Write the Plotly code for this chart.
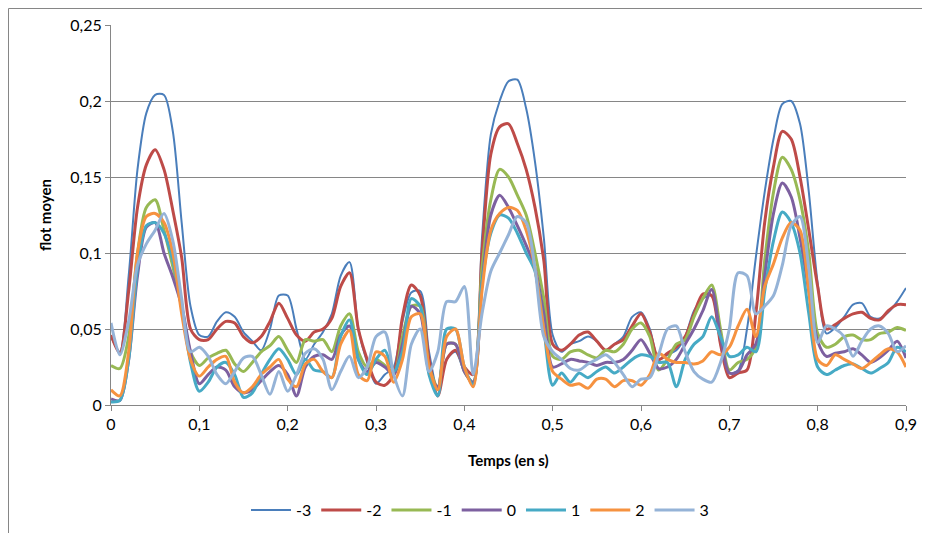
import plotly.graph_objects as go

time_s = [round(i * 0.01, 2) for i in range(91)]

s_m3 = [0.045, 0.035, 0.085, 0.155, 0.192, 0.204, 0.204, 0.18, 0.12, 0.065,
        0.046, 0.045, 0.055, 0.061, 0.058, 0.048, 0.042, 0.036, 0.05, 0.072,
        0.072, 0.05, 0.03, 0.04, 0.048, 0.06, 0.085, 0.094, 0.05, 0.028,
        0.014, 0.02, 0.025, 0.055, 0.074, 0.075, 0.035, 0.01, 0.03, 0.035,
        0.022, 0.015, 0.11, 0.178, 0.2, 0.213, 0.214, 0.195, 0.16, 0.11,
        0.046, 0.035, 0.04, 0.042, 0.045, 0.042, 0.036, 0.04, 0.045, 0.058,
        0.061, 0.05, 0.03, 0.033, 0.036, 0.045, 0.062, 0.07, 0.072, 0.04,
        0.021, 0.023, 0.05, 0.097, 0.14, 0.175, 0.198, 0.2, 0.185, 0.14,
        0.08, 0.047, 0.051, 0.058, 0.066, 0.067, 0.058, 0.057, 0.061, 0.068,
        0.077]

s_m2 = [0.046, 0.034, 0.075, 0.13, 0.158, 0.168, 0.155, 0.128, 0.097, 0.05,
        0.043, 0.043, 0.05, 0.055, 0.054, 0.045, 0.041, 0.045, 0.055, 0.067,
        0.057, 0.046, 0.042, 0.048, 0.05, 0.057, 0.078, 0.087, 0.05, 0.03,
        0.015, 0.013, 0.02, 0.058, 0.079, 0.072, 0.03, 0.006, 0.03, 0.036,
        0.025, 0.02, 0.1, 0.165, 0.183, 0.185, 0.172, 0.155, 0.13, 0.095,
        0.04, 0.036, 0.04, 0.046, 0.048, 0.042, 0.036, 0.04, 0.043, 0.052,
        0.06, 0.048, 0.03, 0.034, 0.038, 0.045, 0.06, 0.073, 0.072, 0.04,
        0.018, 0.021, 0.023, 0.06, 0.12, 0.157, 0.18, 0.175, 0.15, 0.115,
        0.078, 0.05, 0.053, 0.057, 0.06, 0.061, 0.057, 0.056, 0.062, 0.066,
        0.066]

s_m1 = [0.026, 0.024, 0.045, 0.1, 0.13, 0.135, 0.115, 0.091, 0.065, 0.035,
        0.026, 0.031, 0.034, 0.036, 0.027, 0.022, 0.028, 0.035, 0.039, 0.045,
        0.036, 0.028, 0.043, 0.042, 0.043, 0.035, 0.052, 0.06, 0.035, 0.025,
        0.03, 0.026, 0.02, 0.045, 0.065, 0.065, 0.025, 0.012, 0.04, 0.04,
        0.022, 0.015, 0.09, 0.135, 0.155, 0.15, 0.138, 0.125, 0.1, 0.07,
        0.032, 0.03, 0.035, 0.036, 0.033, 0.031, 0.036, 0.035, 0.04, 0.05,
        0.054, 0.045, 0.023, 0.03, 0.04, 0.043, 0.058, 0.07, 0.079, 0.05,
        0.023, 0.028, 0.03, 0.038, 0.095, 0.14, 0.163, 0.155, 0.135, 0.1,
        0.047, 0.038, 0.04, 0.045, 0.046, 0.043, 0.043, 0.047, 0.048, 0.051,
        0.049]

s_0 = [0.004, 0.003, 0.03, 0.085, 0.117, 0.12, 0.1, 0.084, 0.065, 0.035,
       0.014, 0.02, 0.025, 0.023, 0.012, 0.008, 0.01, 0.016, 0.022, 0.026,
       0.02, 0.006, 0.025, 0.032, 0.033, 0.03, 0.046, 0.052, 0.03, 0.022,
       0.028, 0.025, 0.02, 0.04, 0.065, 0.06, 0.022, 0.012, 0.04, 0.04,
       0.022, 0.015, 0.08, 0.125, 0.138, 0.13, 0.118, 0.105, 0.09, 0.06,
       0.025, 0.027, 0.03, 0.029, 0.028, 0.026, 0.028, 0.028, 0.03, 0.036,
       0.043, 0.034, 0.024, 0.025, 0.03, 0.04, 0.05, 0.062, 0.076, 0.045,
       0.021, 0.022, 0.033, 0.04, 0.085, 0.126, 0.146, 0.137, 0.11, 0.075,
       0.042, 0.032, 0.034, 0.035, 0.037, 0.033, 0.028, 0.031, 0.036, 0.042,
       0.031]

s_p1 = [0.002, 0.003, 0.03, 0.09, 0.118, 0.12, 0.113, 0.095, 0.065, 0.028,
        0.009, 0.015, 0.025, 0.028, 0.02, 0.005, 0.008, 0.02, 0.03, 0.037,
        0.03, 0.02, 0.03, 0.023, 0.022, 0.018, 0.045, 0.056, 0.03, 0.02,
        0.03, 0.036, 0.022, 0.035, 0.07, 0.065, 0.02, 0.006, 0.05, 0.05,
        0.025, 0.013, 0.08, 0.113, 0.125, 0.123, 0.113, 0.1, 0.088, 0.05,
        0.013, 0.021, 0.015, 0.021, 0.018, 0.022, 0.025, 0.021, 0.025, 0.03,
        0.033, 0.032, 0.028, 0.028, 0.012, 0.03, 0.04, 0.045, 0.058, 0.045,
        0.032, 0.033, 0.038, 0.035, 0.075, 0.108, 0.127, 0.12, 0.1, 0.06,
        0.025, 0.02, 0.023, 0.026, 0.027, 0.024, 0.021, 0.024, 0.028, 0.038,
        0.035]

s_p2 = [0.01, 0.006, 0.035, 0.1, 0.124, 0.126, 0.12, 0.1, 0.06, 0.03,
        0.019, 0.025, 0.03, 0.032, 0.015, 0.008, 0.012, 0.02, 0.025, 0.03,
        0.017, 0.012, 0.027, 0.03, 0.022, 0.018, 0.04, 0.049, 0.02, 0.016,
        0.035, 0.032, 0.015, 0.03, 0.058, 0.06, 0.025, 0.01, 0.045, 0.05,
        0.025, 0.012, 0.075, 0.115, 0.126, 0.13, 0.128, 0.115, 0.09, 0.05,
        0.022, 0.017, 0.013, 0.014, 0.011, 0.017, 0.017, 0.012, 0.016, 0.016,
        0.013, 0.02, 0.034, 0.03, 0.028, 0.028, 0.027, 0.029, 0.035, 0.033,
        0.038, 0.052, 0.063, 0.045, 0.078, 0.093, 0.11, 0.12, 0.115, 0.075,
        0.03, 0.026, 0.033, 0.03, 0.027, 0.024, 0.028, 0.033, 0.037, 0.035,
        0.025]

s_p3 = [0.054, 0.033, 0.055, 0.092, 0.106, 0.115, 0.126, 0.108, 0.07, 0.035,
        0.038, 0.032, 0.02, 0.014, 0.022, 0.031, 0.032, 0.02, 0.007, 0.022,
        0.009, 0.02, 0.034, 0.037, 0.03, 0.01, 0.022, 0.032, 0.018, 0.025,
        0.045, 0.048, 0.02, 0.006, 0.04, 0.05, 0.022, 0.035, 0.068, 0.068,
        0.078, 0.02, 0.06, 0.088, 0.1, 0.112, 0.124, 0.12, 0.09, 0.045,
        0.035, 0.03, 0.024, 0.023, 0.027, 0.03, 0.033, 0.028, 0.02, 0.012,
        0.017, 0.018, 0.033, 0.05, 0.052, 0.035, 0.022, 0.017, 0.015, 0.028,
        0.05, 0.087, 0.085, 0.06, 0.065, 0.072, 0.092, 0.118, 0.124, 0.09,
        0.041, 0.052, 0.05, 0.045, 0.032, 0.042, 0.05, 0.052, 0.047, 0.035,
        0.039]

series_names = ["-3", "-2", "-1", "0", "1", "2", "3"]
series_values = [s_m3, s_m2, s_m1, s_0, s_p1, s_p2, s_p3]
colors = ["#4A7EBB", "#BE4B48", "#98B954", "#7D60A0", "#46AAC5", "#F69240", "#95B3D7"]
widths = [2, 3, 3, 3, 3, 3, 3]

x_tick_vals = [0, 0.1, 0.2, 0.3, 0.4, 0.5, 0.6, 0.7, 0.8, 0.9]
x_tick_text = ["0", "0,1", "0,2", "0,3", "0,4", "0,5", "0,6", "0,7", "0,8", "0,9"]
y_tick_vals = [0, 0.05, 0.1, 0.15, 0.2, 0.25]
y_tick_text = ["0", "0,05", "0,1", "0,15", "0,2", "0,25"]

FONT = "Lato"
OFF = 8                      # page body margin
FW, FH = 930 - OFF, 533 - OFF
# plot area in screen pixels: x 111..906, y 25..405
L, R, T, B = 111 - OFF, 930 - 906, 25 - OFF, 533 - 405
PW, PH = FW - L - R, FH - T - B

def px_x(p):
    return (p - OFF - L) / PW

def px_y(p):
    return (FH - B - (p - OFF)) / PH

fig = go.Figure()
for name, vals, col, w in zip(series_names, series_values, colors, widths):
    fig.add_trace(go.Scatter(
        x=time_s, y=vals, name=name, mode="lines",
        line=dict(color=col, width=w, shape="spline", smoothing=0.8),
    ))

fig.update_layout(
    width=FW, height=FH,
    margin=dict(l=L, r=R, t=T, b=B, autoexpand=False),
    paper_bgcolor="white", plot_bgcolor="white",
    font=dict(family=FONT, size=16, color="#000000"),
    showlegend=True,
    legend=dict(orientation="h", x=px_x(480), xanchor="center", y=px_y(510), yanchor="middle",
                font=dict(family=FONT, size=16), itemwidth=40, traceorder="normal",
                bgcolor="rgba(0,0,0,0)"),
    xaxis=dict(range=[0, 0.9], tickvals=x_tick_vals, ticktext=x_tick_text,
               showgrid=False, zeroline=False, showline=True, linecolor="#868686",
               linewidth=1, ticks="outside", ticklen=5, tickcolor="#868686",
               automargin=False, tickfont=dict(family=FONT, size=16)),
    yaxis=dict(range=[0, 0.25], tickvals=y_tick_vals, ticktext=y_tick_text,
               showgrid=True, gridcolor="#868686", gridwidth=1, zeroline=False,
               showline=True, linecolor="#868686", linewidth=1,
               ticks="outside", ticklen=5, tickcolor="#868686",
               automargin=False, tickfont=dict(family=FONT, size=16)),
    annotations=[
        dict(text="<b>Temps (en s)</b>", xref="paper", yref="paper",
             x=0.5, y=px_y(460), xanchor="center", yanchor="middle",
             showarrow=False, font=dict(family=FONT, size=15)),
        dict(text="<b>flot moyen</b>", xref="paper", yref="paper",
             x=px_x(45), y=px_y(215), xanchor="center", yanchor="middle",
             textangle=-90, showarrow=False, font=dict(family=FONT, size=15)),
    ],
)

# outer chart frame
fig.add_shape(type="rect", xref="paper", yref="paper",
              x0=px_x(8.5), x1=px_x(945), y0=px_y(560), y1=px_y(8.5),
              line=dict(color="#868686", width=1), fillcolor="rgba(0,0,0,0)", layer="below")

fig.write_html("out.html")
